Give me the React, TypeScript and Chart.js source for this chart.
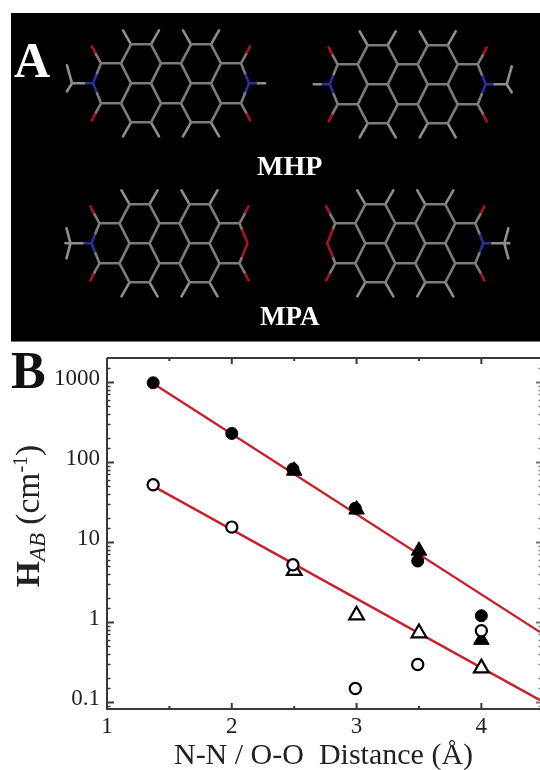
import React, { useEffect, useRef } from "react";
import { Chart, registerables } from "chart.js";

Chart.register(...registerables);

const SERIF = '"Liberation Serif", serif';

// ---- Panel B: coupling vs distance ----
const circleDistance = [1.37, 2, 2.49, 2.99, 3.49, 4];
const triangleDistance = [2.5, 3, 3.5, 4];
const filledCircleValues = [980, 228, 82, 26.5, 5.8, 1.2];
const openCircleValues = [52, 15.4, 5.2, 0.148, 0.295, 0.78];
const filledTriangleValues = [78, 25.5, 7.8, 0.6];
const openTriangleValues = [4.4, 1.22, 0.73, 0.266];
const upperFitX = [1.37, 4.47];
const upperFitY = [960, 0.75];
const lowerFitX = [1.37, 4.47];
const lowerFitY = [50, 0.106];
const yTickLabels = ["1000", "100", "10", "1", "0.1"];
const xTickLabels = ["1", "2", "3", "4"];
const xRange = [1, 4.47];
const yRange = [0.082, 2000];

// ---- Panel A: molecular sketches, each bond is [x1, y1, x2, y2] ----
type Seg = number[];
const coreBonds: Seg[] = [
  [-40, -39, -20, -39], [-20, -39, -10, -20], [-10, -20, -20, 0], [-20, 0, -40, 0], [-40, 0, -50, -20], [-50, -20, -40, -39],
  [20, -39, 40, -39], [40, -39, 50, -20], [50, -20, 40, 0], [40, 0, 20, 0], [20, 0, 10, -20], [10, -20, 20, -39],
  [-10, -20, 10, -20], [20, 0, 10, 20], [10, 20, -10, 20], [-10, 20, -20, 0],
  [-10, 20, -20, 39], [-20, 39, -40, 39], [-40, 39, -50, 20], [-50, 20, -40, 0],
  [10, 20, 20, 39], [20, 39, 40, 39], [40, 39, 50, 20], [50, 20, 40, 0],
  [-50, -20, -70, -20], [-50, 20, -70, 20], [50, -20, 70, -20], [50, 20, 70, 20],
  [-70, -20, -75, -29], [-70, 20, -75, 29], [70, -20, 75, -29], [70, 20, 75, 29],
];
const hydrogenBonds: Seg[] = [
  [-40, -39, -48, -53], [-20, -39, -12, -53], [20, -39, 12, -53], [40, -39, 48, -53],
  [-40, 39, -48, 53], [-20, 39, -12, 53], [20, 39, 12, 53], [40, 39, 48, 53],
];
const oxoBonds: Seg[] = [
  [-75, -29, -79, -37], [-75, 29, -79, 37], [75, -29, 79, -37], [75, 29, 79, 37],
];
// Groups drawn on the right-hand side; mirrored for the left-hand side.
const imideGray: Seg[] = [[70, -20, 74, -10], [70, 20, 74, 10]];
const imideBlue: Seg[] = [[74, -10, 78, 0], [74, 10, 78, 0], [78, 0, 87, 0]];
const nhGray: Seg[] = [[87, 0, 94, 0]];
const methylGray: Seg[] = [[87, 0, 99, 0], [99, 0, 104, -18], [99, 0, 104, 8]];
const methylTopGray: Seg[] = [[87, 0, 104, 0], [99, 0, 103, -15], [99, 0, 103, 15]];
const anhydrideGray: Seg[] = [[70, -20, 72, -15], [70, 20, 72, 15]];
const anhydrideRed: Seg[] = [[72, -15, 78, 0], [72, 15, 78, 0]];

const moleculeCentreX = [171, 407.7, 169.5, 405.3];
const moleculeCentreY = [83.3, 84.3, 243.3, 243.3];
// end group on [left, right]: m = methyl imide, t = methyl imide (staggered), h = N-H imide, o = anhydride
const moleculeEnds = [["m", "h"], ["h", "m"], ["t", "o"], ["o", "t"]];
const panelARect = [11, 13, 540, 341];
const panelAEdge = 342;

const place = (segs: Seg[], cx: number, cy: number, flip: number) => {
  const out: any[] = [];
  segs.forEach(([a, b, c, d]) => {
    out.push({ x: cx + flip * a, y: cy + b }, { x: cx + flip * c, y: cy + d }, { x: NaN, y: NaN });
  });
  return out;
};

const buildLayers = () => {
  const gray: any[] = [], light: any[] = [], red: any[] = [], blue: any[] = [];
  moleculeCentreX.forEach((cx, i) => {
    const cy = moleculeCentreY[i];
    gray.push(...place(coreBonds, cx, cy, 1));
    light.push(...place(hydrogenBonds, cx, cy, 1));
    red.push(...place(oxoBonds, cx, cy, 1));
    moleculeEnds[i].forEach((kind, side) => {
      const flip = side === 0 ? -1 : 1;
      if (kind === "o") {
        gray.push(...place(anhydrideGray, cx, cy, flip));
        red.push(...place(anhydrideRed, cx, cy, flip));
      } else {
        gray.push(...place(imideGray, cx, cy, flip));
        blue.push(...place(imideBlue, cx, cy, flip));
        const tail = kind === "h" ? nhGray : kind === "t" ? methylTopGray : methylGray;
        light.push(...place(tail, cx, cy, flip));
      }
    });
  });
  return { gray, light, red, blue };
};

const pairs = (xs: number[], ys: number[]) => xs.map((x, i) => ({ x, y: ys[i] }));

const panelBackground = {
  id: "panelBackground",
  beforeDatasetsDraw(chart: any) {
    const { ctx, scales } = chart;
    const [x0, y0, x1, y1] = panelARect;
    const l = scales.x.getPixelForValue(x0);
    const r = scales.x.getPixelForValue(x1);
    const t = scales.y.getPixelForValue(y0);
    const b = scales.y.getPixelForValue(y1);
    ctx.save();
    ctx.fillStyle = "#000";
    ctx.fillRect(l, t, r - l, b - t);
    ctx.fillStyle = "#777";
    ctx.fillRect(l, b, r - l, scales.y.getPixelForValue(panelAEdge) - b);
    ctx.restore();
  },
};

const isDecade = (v: number) => Math.abs(Math.log10(v) - Math.round(Math.log10(v))) < 1e-6;

const frameTicks = {
  id: "frameTicks",
  afterDraw(chart: any) {
    const { ctx, chartArea: a, scales } = chart;
    ctx.save();
    ctx.strokeStyle = "#3a3a3a";
    ctx.lineWidth = 2;
    ctx.beginPath();
    ctx.moveTo(a.left, a.top);
    ctx.lineTo(a.right, a.top);
    ctx.moveTo(a.left, a.top);
    ctx.lineTo(a.left, a.bottom);
    ctx.moveTo(a.left - 1, a.bottom);
    ctx.lineTo(a.right, a.bottom);
    ctx.stroke();
    scales.x.ticks.forEach((t: any) => {
      const px = scales.x.getPixelForValue(t.value);
      if (t.value <= xRange[0] || t.value >= xRange[1]) return;
      const len = Number.isInteger(t.value) ? 6 : 3;
      ctx.beginPath();
      ctx.moveTo(px, a.bottom);
      ctx.lineTo(px, a.bottom - len);
      ctx.moveTo(px, a.top);
      ctx.lineTo(px, a.top + len);
      ctx.stroke();
    });
    scales.y.ticks.forEach((t: any) => {
      if (t.value <= yRange[0] || t.value >= yRange[1]) return;
      const py = Math.round(scales.y.getPixelForValue(t.value)) + 0.5;
      const major = isDecade(t.value);
      ctx.lineWidth = major ? 2 : 1.5;
      ctx.strokeStyle = "#3a3a3a";
      ctx.beginPath();
      ctx.moveTo(a.left, py);
      ctx.lineTo(a.left + (major ? 7 : 3.5), py);
      ctx.stroke();
      ctx.strokeStyle = "#777";
      ctx.beginPath();
      ctx.moveTo(a.right, py);
      ctx.lineTo(a.right - (major ? 4 : 1.5), py);
      ctx.stroke();
    });
    ctx.restore();
  },
};

const labelStyle = (left: number, top: number, size: number): React.CSSProperties => ({
  position: "absolute",
  left,
  top,
  font: `bold ${size}px ${SERIF}`,
  lineHeight: 1,
  color: "#fff",
  whiteSpace: "nowrap",
});

export default function App() {
  const topRef = useRef<HTMLCanvasElement>(null);
  const bottomRef = useRef<HTMLCanvasElement>(null);

  useEffect(() => {
    const layers = buildLayers();
    const bond = (label: string, data: any[], color: string) => ({
      label,
      data,
      showLine: true,
      borderColor: color,
      borderWidth: 2.6,
      pointRadius: 0,
      spanGaps: false,
      borderCapStyle: "round" as const,
    });
    const top = new Chart(topRef.current!, {
      type: "scatter",
      data: {
        datasets: [
          bond("Ring bonds", layers.gray, "#7c7c7c"),
          bond("Terminal bonds", layers.light, "#8f8f8f"),
          bond("Oxygen", layers.red, "#a8141e"),
          bond("Nitrogen", layers.blue, "#2a2f96"),
        ],
      },
      options: {
        animation: false,
        responsive: false,
        layout: { padding: 0, autoPadding: false },
        plugins: { legend: { display: false }, tooltip: { enabled: false } },
        scales: {
          x: { type: "linear", display: false, min: 0, max: 540 },
          y: { type: "linear", display: false, min: 0, max: 345, reverse: true },
        },
      },
      plugins: [panelBackground],
    });

    const line = (label: string, xs: number[], ys: number[]) => ({
      label,
      data: pairs(xs, ys),
      showLine: true,
      borderColor: "#c8202c",
      borderWidth: 2.4,
      pointRadius: 0,
      order: 5,
    });
    const marker = (
      label: string,
      xs: number[],
      ys: number[],
      style: string,
      filled: boolean,
      radius: number,
      order: number
    ) => ({
      label,
      data: pairs(xs, ys),
      showLine: false,
      pointStyle: style,
      pointRadius: radius,
      pointBackgroundColor: filled ? "#000" : "#fff",
      pointBorderColor: "#000",
      pointBorderWidth: filled ? 1 : 2.2,
      order,
    });

    const bottom = new Chart(bottomRef.current!, {
      type: "scatter",
      data: {
        datasets: [
          line("Upper fit", upperFitX, upperFitY),
          line("Lower fit", lowerFitX, lowerFitY),
          marker("Open triangles", triangleDistance, openTriangleValues, "triangle", false, 8.5, 4),
          marker("Filled triangles", triangleDistance, filledTriangleValues, "triangle", true, 9, 3),
          marker("Open circles", circleDistance, openCircleValues, "circle", false, 5.6, 2),
          marker("Filled circles", circleDistance, filledCircleValues, "circle", true, 6, 1),
        ] as any,
      },
      options: {
        animation: false,
        responsive: false,
        layout: { padding: { top: 13, right: 0, left: 0, bottom: 0 }, autoPadding: false },
        plugins: { legend: { display: false }, tooltip: { enabled: false } },
        scales: {
          x: {
            type: "linear",
            min: xRange[0],
            max: xRange[1],
            grid: { display: false, drawTicks: false },
            border: { display: false },
            afterFit: (s: any) => {
              s.height = 61;
              s.paddingLeft = 0;
              s.paddingRight = 0;
            },
            title: {
              display: true,
              text: "N-N / O-O  Distance (Å)",
              color: "#222",
              font: { family: SERIF, size: 30 },
              padding: { top: 0, bottom: -4 },
            },
            ticks: {
              stepSize: 0.5,
              includeBounds: false,
              autoSkip: false,
              maxRotation: 0,
              padding: 4,
              color: "#222",
              font: { family: SERIF, size: 23 },
              callback: (v: any) => (xTickLabels.includes(String(v)) ? String(v) : ""),
            },
          },
          y: {
            type: "logarithmic",
            min: yRange[0],
            max: yRange[1],
            grid: { display: false, drawTicks: false },
            border: { display: false },
            afterFit: (s: any) => {
              s.width = 107;
              s.paddingTop = 0;
              s.paddingBottom = 0;
            },
            ticks: {
              autoSkip: false,
              padding: 7,
              labelOffset: -3,
              color: "#222",
              font: { family: SERIF, size: 23 },
              callback: (v: any) => {
                const text = String(Number(v));
                return yTickLabels.includes(text) ? text : "";
              },
            },
          },
        },
      },
      plugins: [frameTicks],
    });

    return () => {
      top.destroy();
      bottom.destroy();
    };
  }, []);

  return (
    <div style={{ position: "fixed", left: 0, top: 0, width: 540, height: 770, background: "#fff", overflow: "hidden", filter: "blur(0.45px)" }}>
      <canvas ref={topRef} width={540} height={345} style={{ position: "absolute", left: 0, top: 0, display: "block" }} />
      <canvas ref={bottomRef} width={540} height={425} style={{ position: "absolute", left: 0, top: 345, display: "block" }} />
      <div style={labelStyle(14, 35, 50)}>A</div>
      <div style={labelStyle(257, 152, 28)}>MHP</div>
      <div style={labelStyle(260, 303, 27)}>MPA</div>
      <div style={{ ...labelStyle(11, 345, 52), color: "#111" }}>B</div>
      <div
        style={{
          position: "absolute",
          left: 29,
          top: 516,
          transform: "translate(-50%, -50%) rotate(-90deg)",
          font: `33.5px ${SERIF}`,
          color: "#222",
          whiteSpace: "nowrap",
          lineHeight: 1,
        }}
      >
        <b>H</b>
        <i style={{ fontSize: 23, verticalAlign: -6 }}>AB</i>
        <span> (cm</span>
        <span style={{ fontSize: 20, verticalAlign: 12 }}>-1</span>
        <span>)</span>
      </div>
    </div>
  );
}
